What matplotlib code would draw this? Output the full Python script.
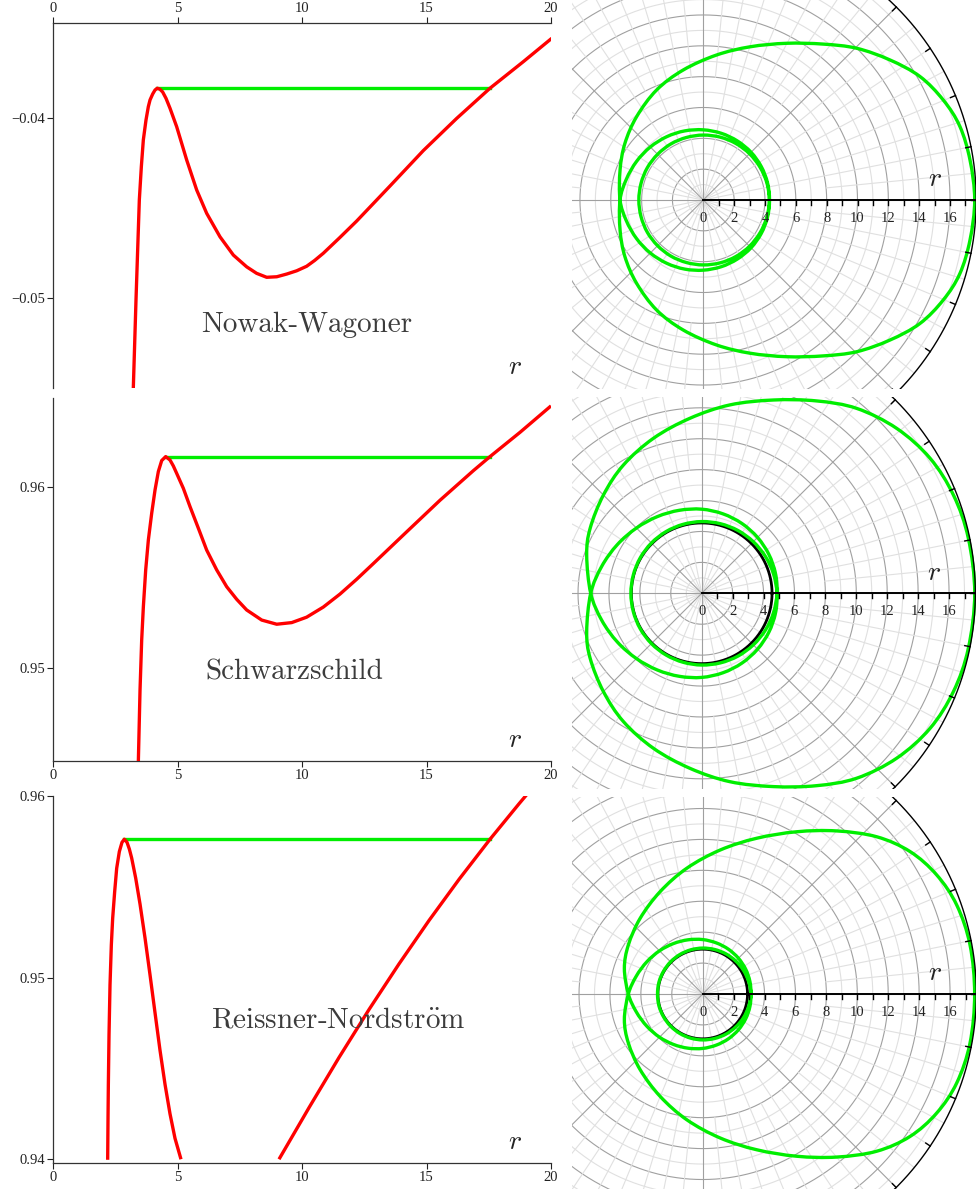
import numpy as np
import matplotlib.pyplot as plt
from matplotlib.path import Path
from matplotlib.patches import PathPatch

plt.rcParams['font.family'] = ['Liberation Serif', 'DejaVu Serif']
plt.rcParams['mathtext.fontset'] = 'cm'
plt.rcParams['axes.formatter.use_mathtext'] = True

# ---- effective potentials (left column) ----
nw_r = [3.215, 3.270, 3.323, 3.390, 3.457, 3.538, 3.618, 3.725, 3.819, 3.887,
        3.994, 4.088, 4.181, 4.288, 4.395, 4.529, 4.690, 4.958, 5.360, 5.762,
        6.163, 6.699, 7.235, 7.770, 8.170, 8.575, 8.980, 9.380, 9.780, 10.18,
        10.50, 10.85, 11.50, 12.19, 13.53, 14.87, 16.21, 17.55, 18.89, 20.03]
nw_v = [-0.05497, -0.05249, -0.05009, -0.04732, -0.04455, -0.04271, -0.04123,
        -0.04013, -0.03939, -0.03902, -0.03869, -0.03847, -0.03837, -0.03843,
        -0.03858, -0.03893, -0.03948, -0.04050, -0.04234, -0.04400, -0.04529,
        -0.04659, -0.04760, -0.04825, -0.04861, -0.04883, -0.04880, -0.04865,
        -0.04847, -0.04822, -0.04790, -0.04750, -0.04665, -0.04572, -0.04378,
        -0.04182, -0.04004, -0.03837, -0.03690, -0.03561]
nw_level = -0.03837
nw_turn = [4.18, 17.55]

sc_r = [3.418, 3.485, 3.552, 3.619, 3.713, 3.820, 3.954, 4.088, 4.221, 4.356,
        4.517, 4.690, 4.824, 4.958, 5.226, 5.493, 5.829, 6.163, 6.566, 6.967,
        7.370, 7.770, 8.375, 8.978, 9.581, 10.18, 10.85, 11.52, 12.19, 12.86,
        14.20, 15.54, 16.88, 17.55, 18.76, 20.0]
sc_v = [0.94483, 0.94876, 0.95154, 0.95338, 0.95542, 0.95708, 0.95856, 0.95985,
        0.96087, 0.96148, 0.96170, 0.96151, 0.96118, 0.96077, 0.95994, 0.95893,
        0.95773, 0.95652, 0.95542, 0.95449, 0.95379, 0.95320, 0.95264, 0.95241,
        0.95250, 0.95280, 0.95336, 0.95408, 0.95490, 0.95577, 0.95753, 0.95928,
        0.96092, 0.96170, 0.96305, 0.96451]
sc_level = 0.96170
sc_turn = [4.52, 17.55]

rn_r_in = [2.185, 2.199, 2.212, 2.239, 2.279, 2.332, 2.386, 2.466, 2.547,
           2.654, 2.761, 2.855, 2.962, 3.056, 3.150, 3.311, 3.485, 3.686,
           3.887, 4.088, 4.288, 4.490, 4.690, 4.891, 5.131]
rn_v_in = [0.93997, 0.94226, 0.94410, 0.94685, 0.94960, 0.95180, 0.95327,
           0.95473, 0.95602, 0.95694, 0.95745, 0.95762, 0.95745, 0.95708,
           0.95658, 0.95548, 0.95405, 0.95218, 0.95015, 0.94806, 0.94600,
           0.94412, 0.94250, 0.94115, 0.94000]
rn_r_out = [9.07, 10.28, 11.48, 12.69, 13.89, 15.10, 16.31, 17.55, 18.72, 19.20]
rn_v_out = [0.94000, 0.94285, 0.94560, 0.94825, 0.95075, 0.95315, 0.95542,
            0.95762, 0.95958, 0.96036]
rn_level = 0.95762
rn_turn = [2.85, 17.55]

x_ticks = [0, 5, 10, 15, 20]
nw_yticks, nw_ylabels = [-0.05, -0.04], ['\u22120.05', '\u22120.04']
sc_yticks, sc_ylabels = [0.95, 0.96], ['0.95', '0.96']
rn_yticks, rn_ylabels = [0.94, 0.95, 0.96], ['0.94', '0.95', '0.96']

# ---- orbits (right column): r(phi) from apoapsis to the middle of the
# whirl, the other half is the mirror image ----
whirl_phi = [195, 210, 225, 240, 255, 270, 285, 300, 315, 330, 345, 360, 375,
             390, 405, 420, 435, 450, 465, 480, 495, 510, 525, 540]

nw_phi = [0, 8.5, 16.0, 22.6, 29.7, 36.9, 44.7, 52.4, 62.0, 73.0, 84.8, 98.8,
          113.0, 128.7, 144.2, 160.1, 180] + whirl_phi
nw_orbit = [17.60, 17.49, 17.31, 16.86, 16.17, 15.13, 13.99, 12.76, 11.51,
            10.39, 9.44, 8.53, 7.75, 6.92, 6.27, 5.74, 5.40,
            5.17, 5.00, 4.86, 4.74, 4.64, 4.55, 4.48, 4.42, 4.38, 4.34, 4.31,
            4.29, 4.27, 4.25, 4.24, 4.23, 4.22, 4.21, 4.20, 4.20, 4.19, 4.19,
            4.18, 4.18]

sc_phi = [0, 11.7, 21.3, 30.6, 40.2, 50.0, 59.1, 69.6, 81.5, 93.8, 107.3,
          121.4, 135.0, 149.8, 161.6, 180] + whirl_phi
sc_orbit = [17.66, 17.61, 17.48, 17.16, 16.52, 15.61, 14.50, 13.34, 12.32,
            11.35, 10.50, 9.72, 8.99, 8.35, 7.84, 7.18,
            6.70, 6.30, 5.97, 5.73, 5.56, 5.44, 5.32, 5.21, 5.11, 5.02, 4.94,
            4.87, 4.81, 4.76, 4.72, 4.69, 4.66, 4.64, 4.62, 4.61, 4.60, 4.59,
            4.58, 4.58]

rn_phi = [0, 10.4, 19.3, 27.0, 34.5, 42.1, 50.6, 59.9, 70.9, 83.1, 97.2,
          112.6, 129.6, 146.6, 161.9, 180] + whirl_phi
rn_orbit = [17.59, 17.58, 17.41, 16.98, 16.27, 15.17, 13.65, 12.13, 10.66,
            9.38, 8.20, 7.17, 6.35, 5.76, 5.33, 4.81,
            4.45, 4.17, 3.95, 3.77, 3.63, 3.52, 3.42, 3.34, 3.27, 3.21, 3.16,
            3.12, 3.08, 3.05, 3.02, 3.00, 2.98, 2.97, 2.96, 2.95, 2.94, 2.93,
            2.93, 2.92]

sc_circle = 4.55
rn_circle = 2.90

r_max = 17.7
ring_radii = list(range(1, 18))
r_labels = [0, 2, 4, 6, 8, 10, 12, 14, 16]

RED = '#ff0000'
GREEN = '#00ee00'
W, H = 976, 1189

fig = plt.figure(figsize=(W / 100, H / 100), dpi=100)


def rect(left, top, right, bottom):
    return [left / W, 1 - bottom / H, (right - left) / W, (bottom - top) / H]


def potential_panel(box, curves, level, turn, ylim, yticks, ylabels,
                    name, name_xy, top_axis):
    ax = fig.add_axes(box)
    for r, v in curves:
        ax.plot(r, v, color=RED, lw=2.4, solid_capstyle='butt',
                solid_joinstyle='round', zorder=3)
    ax.plot(turn, [level, level], color=GREEN, lw=2.4, zorder=2)
    ax.set_xlim(0, 20)
    ax.set_ylim(*ylim)
    ax.set_xticks(x_ticks)
    ax.set_xticklabels([str(t) for t in x_ticks])
    ax.set_yticks(yticks)
    ax.set_yticklabels(ylabels)
    ax.spines['right'].set_visible(False)
    if top_axis:
        ax.spines['bottom'].set_visible(False)
        ax.xaxis.tick_top()
    else:
        ax.spines['top'].set_visible(False)
    for s in ax.spines.values():
        s.set_linewidth(0.9)
        s.set_color('#333333')
    ax.tick_params(direction='out', length=4, width=0.8, labelsize=10.5,
                   colors='#222222', pad=2)
    ax.text(name_xy[0], name_xy[1], name, ha='center', va='center',
            fontsize=21, color='#3c3c3c', family=['cmr10', 'DejaVu Serif'])
    ax.text(18.55, ylim[0] + 0.056 * (ylim[1] - ylim[0]), '$r$',
            ha='center', va='center', fontsize=20, color='#222222')
    return ax


potential_panel(rect(53.3, 23.3, 551, 388.3), [(nw_r, nw_v)], nw_level,
                nw_turn, (-0.05497, -0.03478), nw_yticks, nw_ylabels,
                'Nowak-Wagoner', (10.2, -0.05147), True)
potential_panel(rect(53.3, 398.3, 551, 761), [(sc_r, sc_v)], sc_level,
                sc_turn, (0.94483, 0.96493), sc_yticks, sc_ylabels,
                'Schwarzschild', (9.7, 0.94972), False)
potential_panel(rect(53.3, 796, 551, 1162.7),
                [(rn_r_in, rn_v_in), (rn_r_out, rn_v_out)], rn_level,
                rn_turn, (0.93981, 0.96), rn_yticks, rn_ylabels,
                r'Reissner-Nordstr$\ddot{\mathrm{o}}$m', (11.45, 0.94767),
                False)


def smooth_closed(ax, x, y, **kw):
    # draw a closed curve through the points with cubic Bezier segments
    pts = np.column_stack([x, y])
    n = len(pts)
    verts = [pts[0]]
    codes = [Path.MOVETO]
    for i in range(n):
        p0, p1 = pts[i - 1], pts[i]
        p2, p3 = pts[(i + 1) % n], pts[(i + 2) % n]
        verts += [p1 + (p2 - p0) / 6, p2 - (p3 - p1) / 6, p2]
        codes += [Path.CURVE4] * 3
    ax.add_patch(PathPatch(Path(verts, codes), fill=False, **kw))


def orbit_panel(box, center, scale, phi_deg, orbit_r, circle):
    left, top, right, bottom = box
    cx, cy = center
    ax = fig.add_axes(rect(left, top, right, bottom))
    ax.set_xlim((left - cx) / scale, (right - cx) / scale)
    ax.set_ylim((cy - bottom) / scale, (cy - top) / scale)
    ax.axis('off')

    th = np.linspace(0, 2 * np.pi, 721)
    for rr in ring_radii:
        dark = rr % 2 == 0
        ax.plot(rr * np.cos(th), rr * np.sin(th),
                color='#a0a0a0' if dark else '#e0e0e0', lw=0.8, zorder=1)
    # light spokes every 11.25 deg, extra ones outside r=8
    for k in range(64):
        a = np.radians(k * 5.625)
        if k % 8 == 0:
            continue
        r0 = 0 if k % 2 == 0 else 8
        ax.plot([r0 * np.cos(a), r_max * np.cos(a)],
                [r0 * np.sin(a), r_max * np.sin(a)],
                color='#e0e0e0', lw=0.8, zorder=1)
    for k in range(8):
        a = np.radians(k * 45)
        ax.plot([0, r_max * np.cos(a)], [0, r_max * np.sin(a)],
                color='#a0a0a0', lw=0.8, zorder=1.1)

    # outer angular axis with inward ticks
    ax.plot(r_max * np.cos(th), r_max * np.sin(th), color='black', lw=1.0,
            zorder=4)
    for k in range(32):
        a = np.radians(k * 11.25)
        ax.plot([(r_max - 0.35) * np.cos(a), r_max * np.cos(a)],
                [(r_max - 0.35) * np.sin(a), r_max * np.sin(a)],
                color='black', lw=1.0, zorder=4)

    # radial axis
    ax.plot([0, r_max], [0, 0], color='black', lw=1.4, zorder=4)
    for t in ring_radii:
        ax.plot([t, t], [0, -0.3], color='black', lw=1.0, zorder=4)
    for t in r_labels:
        ax.text(t, -1.2, str(t), ha='center', va='center', fontsize=10.5,
                color='#222222', zorder=5)
    ax.text(15.0, 1.3, '$r$', ha='center', va='center', fontsize=20,
            color='#222222', zorder=5)

    if circle is not None:
        ax.plot(circle * np.cos(th), circle * np.sin(th), color='black',
                lw=2.0, zorder=2)

    phi = np.radians(phi_deg)
    r = np.asarray(orbit_r)
    x = r * np.cos(phi)
    y = r * np.sin(phi)
    # lower half (mirror) from the whirl back to apoapsis, then upper half
    ox = np.concatenate([x[::-1], x[1:-1]])
    oy = np.concatenate([-y[::-1], y[1:-1]])
    smooth_closed(ax, ox, oy, edgecolor=GREEN, lw=2.4, joinstyle='round',
                  zorder=3)
    return ax


orbit_panel((572, 0, 976, 389), (703.3, 200.0), 15.42, nw_phi, nw_orbit,
            None)
orbit_panel((572, 397, 976, 789), (701.7, 593.3), 15.46, sc_phi, sc_orbit,
            sc_circle)
orbit_panel((572, 797, 976, 1189), (702.7, 994.0), 15.46, rn_phi, rn_orbit,
            rn_circle)

fig.savefig('out.png', dpi=100)
